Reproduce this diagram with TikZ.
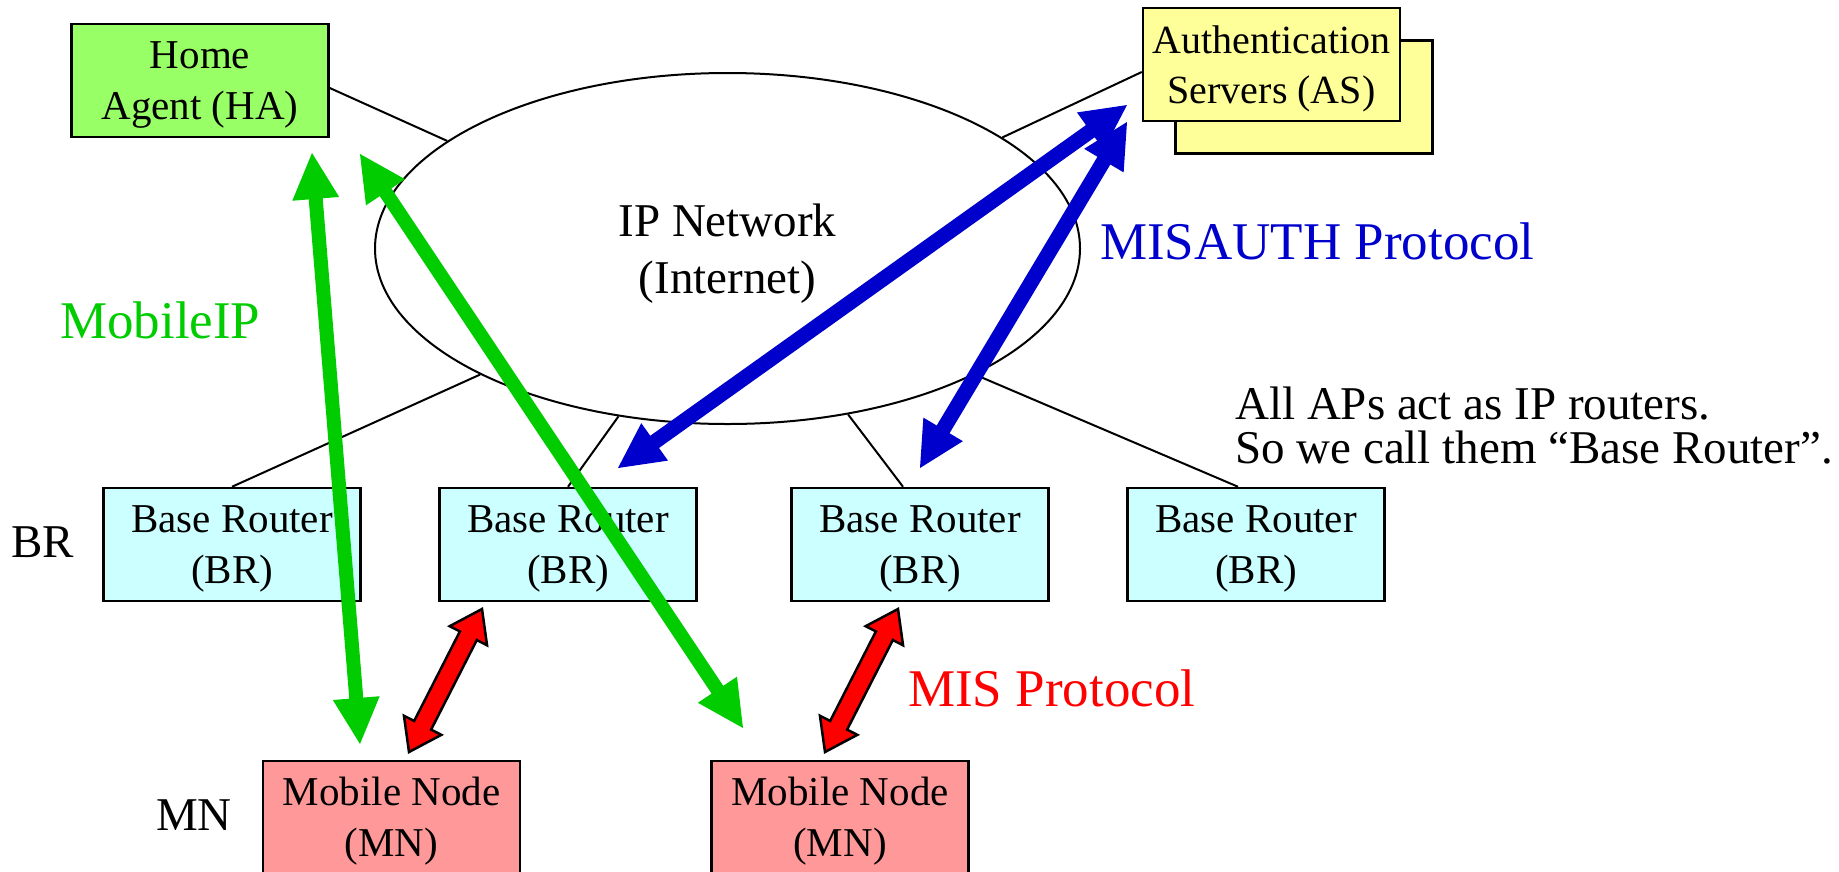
\documentclass[tikz,border=0pt]{standalone}
\usepackage{fontspec}
\setmainfont{Liberation Serif}
\usetikzlibrary{calc,shapes.geometric}

\definecolor{hagreen}{HTML}{99FF66}
\definecolor{asyellow}{HTML}{FFFF99}
\definecolor{brcyan}{HTML}{CCFFFF}
\definecolor{mnpink}{HTML}{FF9999}
\definecolor{mipgreen}{HTML}{00CC00}
\definecolor{authblue}{HTML}{0000CC}
\definecolor{misred}{HTML}{FF0000}

\newcommand\boxfont{\fontsize{41}{51}\selectfont}
\newcommand\tagfont{\fontsize{47}{55}\selectfont}
\newcommand\protofont{\fontsize{53}{60}\selectfont}
% invisible struts that set the height of a first text line
\newcommand\boxstrut{\rule{0pt}{36pt}}
\newcommand\netstrut{\rule{0pt}{42pt}}

% double-headed block arrow between two named points:
% #1 style, #2 from, #3 to, #4 shaft width, #5 head width, #6 head length
\newcommand\dblarrow[6]{%
  \path[#1] let \p1=(#2), \p2=(#3),
    \n1={atan2(\y2-\y1,\x2-\x1)}, \n2={veclen(\x2-\x1,\y2-\y1)} in
    {[shift={(\p1)}, rotate=\n1]
      (0,0) -- (#6,#5/2) -- (#6,#4/2) -- (\n2-#6,#4/2) -- (\n2-#6,#5/2) -- (\n2,0)
      -- (\n2-#6,-#5/2) -- (\n2-#6,-#4/2) -- (#6,-#4/2) -- (#6,-#5/2) -- cycle};}

\begin{document}
\begin{tikzpicture}[x=1pt, y=-1pt,
  box/.style={draw, line width=2.5pt, minimum width=257pt, minimum height=113pt,
    inner sep=0pt, align=center, font=\boxfont},
  habox/.style={box, fill=hagreen},
  asbox/.style={box, fill=asyellow, font=\fontsize{40}{50}\selectfont},
  brbox/.style={box, fill=brcyan},
  mnbox/.style={box, fill=mnpink},
  cloud/.style={draw, ellipse, line width=2pt, fill=white, minimum width=705pt,
    minimum height=351pt, inner sep=0pt, align=center, font=\fontsize{47}{57}\selectfont},
  link/.style={draw, line width=2pt},
  lbl/.style={anchor=base west, inner sep=0pt},
  mipflow/.style={fill=mipgreen},
  authflow/.style={fill=authblue},
  misflow/.style={fill=misred, draw=black, line width=2.5pt, line join=miter},
]
\useasboundingbox (0,0) rectangle (1839,871);

% IP network cloud
\node[cloud] (net) at (727.5,248.5) {\netstrut IP Network\\(Internet)};

% servers
\node[habox] (ha) at (200,80.5) {\boxstrut Home\\Agent (HA)};
\node[asbox] (asback) at (1304,97) {};
\node[asbox] (as) at (1271.5,64.5) {\boxstrut Authentication\\Servers (AS)};

% base routers
\node[brbox] (br1) at (232,544.5) {\boxstrut Base Router\\(BR)};
\node[brbox] (br2) at (568,544.5) {\boxstrut Base Router\\(BR)};
\node[brbox] (br3) at (920,544.5) {\boxstrut Base Router\\(BR)};
\node[brbox] (br4) at (1256,544.5) {\boxstrut Base Router\\(BR)};

% mobile nodes
\node[mnbox] (mn1) at (391.5,817.5) {\boxstrut Mobile Node\\(MN)};
\node[mnbox] (mn2) at (840,817.5) {\boxstrut Mobile Node\\(MN)};

% network links
\draw[link] ([yshift=-7.5pt]ha.east) -- (net.159);
\draw[link] ([yshift=-7.5pt]as.west) -- (net.22);
\draw[link] (br1.north) -- (net.207);
\draw[link] (br2.north) -- (net.237);
\draw[link] ([xshift=-17pt]br3.north) -- (net.306);
\draw[link] ([xshift=-18pt]br4.north) -- (net.333);

% row labels and notes
\node[lbl, font=\tagfont] (brtag) at (11,557) {BR};
\node[lbl, font=\tagfont] (mntag) at (156,830) {MN};
\node[lbl, font=\tagfont] (note1) at (1235,419) {All APs act as IP routers.};
\node[lbl, font=\tagfont] (note2) at (1235,463) {So we call them “Base Router”.};

% protocol labels
\node[lbl, font=\protofont, text=mipgreen] (miplbl) at (60,338) {MobileIP};
\node[lbl, font=\protofont, text=authblue] (authlbl) at (1100,259) {MISAUTH Protocol};
\node[lbl, font=\protofont, text=misred] (mislbl) at (908,706) {MIS Protocol};

% arrow end points
\coordinate (g1a) at (312,153);
\coordinate (g1b) at (360,744);
\coordinate (g2a) at (360,154);
\coordinate (g2b) at (743,728);
\coordinate (b1a) at (618,468);
\coordinate (b1b) at (1127,105);
\coordinate (b2a) at (920,468);
\coordinate (b2b) at (1127,122);
\coordinate (r1a) at (409,752);
\coordinate (r1b) at (482,609);
\coordinate (r2a) at (825,752);
\coordinate (r2b) at (898,609);

% Mobile IP between HA and the mobile nodes
\dblarrow{mipflow}{g1a}{g1b}{14}{47}{46}
\dblarrow{mipflow}{g2a}{g2b}{14}{47}{46}

% MISAUTH between base routers and authentication servers
\dblarrow{authflow}{b1a}{b1b}{15}{46}{45}
\dblarrow{authflow}{b2a}{b2b}{15}{46}{45}

% MIS between mobile nodes and base routers
\dblarrow{misflow}{r1a}{r1b}{19}{42}{30}
\dblarrow{misflow}{r2a}{r2b}{19}{42}{30}
\end{tikzpicture}
\end{document}
